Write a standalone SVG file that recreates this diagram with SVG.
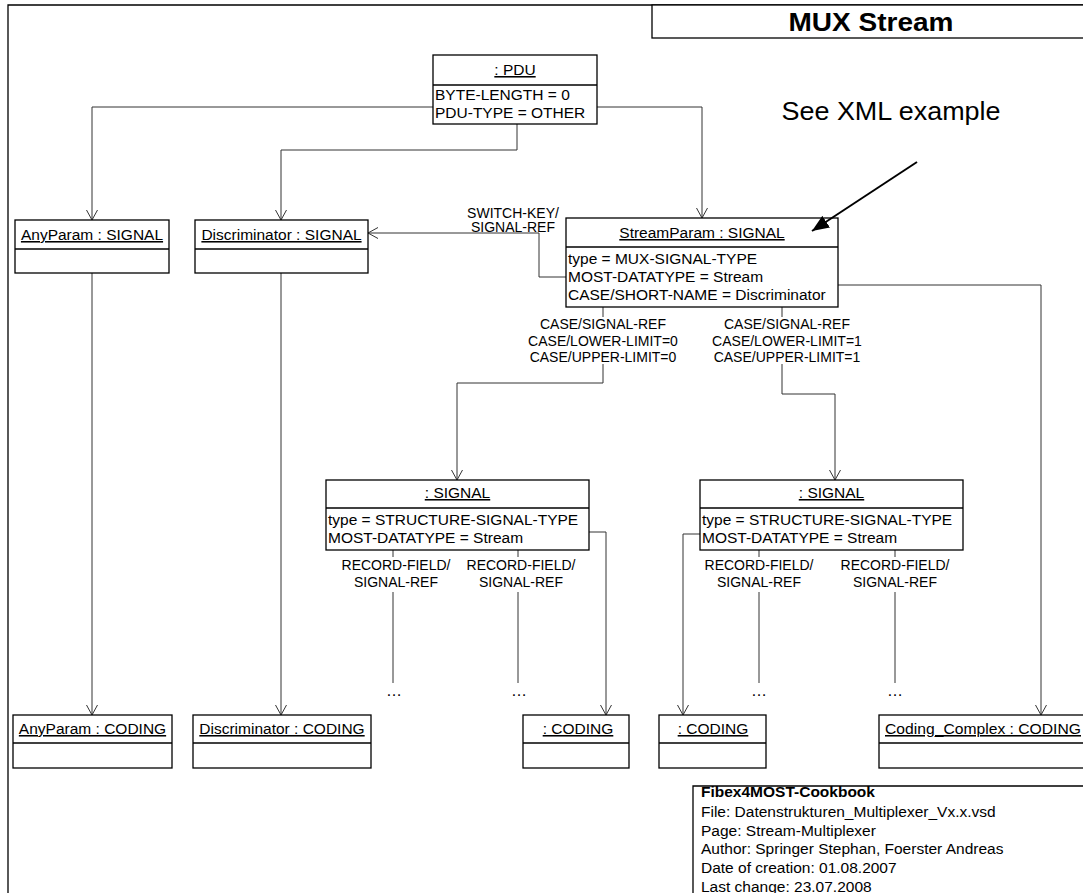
<svg xmlns="http://www.w3.org/2000/svg" width="1083" height="893" viewBox="0 0 1083 893">
  <style>
    .frame{fill:none;stroke:#000;stroke-width:1.3}
    .box{fill:#fff;stroke:#000;stroke-width:1.3}
    .div{stroke:#000;stroke-width:1.3}
    .conn{fill:none;stroke:#333;stroke-width:1}
    .t{font-family:"Liberation Sans",Arial,sans-serif;font-size:15.5px;fill:#000}
    .hdr{text-anchor:middle;text-decoration:underline}
    .lbl{font-family:"Liberation Sans",Arial,sans-serif;font-size:14px;fill:#000;text-anchor:middle}
    .dots{font-family:"Liberation Sans",Arial,sans-serif;font-size:16px;fill:#000;text-anchor:middle}
  </style>
  <defs>
    <marker id="open" markerUnits="userSpaceOnUse" markerWidth="12" markerHeight="13" refX="11" refY="6" orient="auto">
      <path d="M1,0.5 L11,6 L1,11.5" fill="none" stroke="#333" stroke-width="1"/>
    </marker>
    <marker id="solid" markerUnits="userSpaceOnUse" markerWidth="18" markerHeight="14" refX="17" refY="7" orient="auto">
      <path d="M0,0 L17,7 L0,14 Z" fill="#000"/>
    </marker>
  </defs>

  <!-- page frame and title -->
  <path class="frame" d="M8,893 V5 H1083"/>
  <g id="title">
    <rect class="box" x="652" y="5" width="440" height="33"/>
    <text class="t" x="871" y="31" text-anchor="middle" style="font-size:25px;font-weight:bold" textLength="165" lengthAdjust="spacingAndGlyphs">MUX Stream</text>
  </g>

  <!-- connectors -->
  <g id="connectors">
    <path class="conn" d="M433,107 H92 V220" marker-end="url(#open)"/>
    <path class="conn" d="M597,107 H702 V218" marker-end="url(#open)"/>
    <path class="conn" d="M517,124 V150 H281 V220" marker-end="url(#open)"/>
    <path class="conn" d="M566,277 H539 V233 H368" marker-end="url(#open)"/>
    <path class="conn" d="M838,285 H1041 V715" marker-end="url(#open)"/>
    <path class="conn" d="M603,307 V317"/>
    <path class="conn" d="M603,364 V383 H457 V480" marker-end="url(#open)"/>
    <path class="conn" d="M782,307 V317"/>
    <path class="conn" d="M782,364 V394 H835 V480" marker-end="url(#open)"/>
    <path class="conn" d="M92,273 V715" marker-end="url(#open)"/>
    <path class="conn" d="M281,273 V715" marker-end="url(#open)"/>
    <path class="conn" d="M589,532 H606 V715" marker-end="url(#open)"/>
    <path class="conn" d="M700,534 H683 V715" marker-end="url(#open)"/>
    <path class="conn" d="M393,550 V557 M393,592 V683"/>
    <path class="conn" d="M518,550 V557 M518,592 V683"/>
    <path class="conn" d="M759,550 V557 M759,592 V683"/>
    <path class="conn" d="M895,550 V557 M895,592 V683"/>
  </g>

  <!-- connector labels -->
  <g id="labels">
    <text class="lbl" x="513" y="218">SWITCH-KEY/</text>
    <text class="lbl" x="513" y="232">SIGNAL-REF</text>
    <text class="lbl" x="603" y="329">CASE/SIGNAL-REF</text>
    <text class="lbl" x="603" y="346">CASE/LOWER-LIMIT=0</text>
    <text class="lbl" x="603" y="362">CASE/UPPER-LIMIT=0</text>
    <text class="lbl" x="787" y="329">CASE/SIGNAL-REF</text>
    <text class="lbl" x="787" y="346">CASE/LOWER-LIMIT=1</text>
    <text class="lbl" x="787" y="362">CASE/UPPER-LIMIT=1</text>
    <text class="lbl" x="396" y="570">RECORD-FIELD/</text>
    <text class="lbl" x="396" y="587">SIGNAL-REF</text>
    <text class="lbl" x="521" y="570">RECORD-FIELD/</text>
    <text class="lbl" x="521" y="587">SIGNAL-REF</text>
    <text class="lbl" x="759" y="570">RECORD-FIELD/</text>
    <text class="lbl" x="759" y="587">SIGNAL-REF</text>
    <text class="lbl" x="895" y="570">RECORD-FIELD/</text>
    <text class="lbl" x="895" y="587">SIGNAL-REF</text>
    <text class="dots" x="394" y="696">…</text>
    <text class="dots" x="519" y="696">…</text>
    <text class="dots" x="759" y="696">…</text>
    <text class="dots" x="895" y="696">…</text>
  </g>

  <!-- object nodes -->
  <g id="pdu">
    <rect class="box" x="433" y="55" width="164" height="69"/>
    <line class="div" x1="433" y1="85" x2="597" y2="85"/>
    <text class="t hdr" x="515" y="75">: PDU</text>
    <text class="t" x="435" y="100">BYTE-LENGTH = 0</text>
    <text class="t" x="435" y="118">PDU-TYPE = OTHER</text>
  </g>

  <g id="anyparam-signal">
    <rect class="box" x="15" y="220" width="154" height="53"/>
    <line class="div" x1="15" y1="249" x2="169" y2="249"/>
    <text class="t hdr" x="92" y="240">AnyParam : SIGNAL</text>
  </g>

  <g id="discriminator-signal">
    <rect class="box" x="195" y="220" width="173" height="53"/>
    <line class="div" x1="195" y1="249" x2="368" y2="249"/>
    <text class="t hdr" x="281.5" y="240">Discriminator : SIGNAL</text>
  </g>

  <g id="streamparam-signal">
    <rect class="box" x="566" y="218" width="272" height="89"/>
    <line class="div" x1="566" y1="247" x2="838" y2="247"/>
    <text class="t hdr" x="702" y="238">StreamParam : SIGNAL</text>
    <text class="t" x="568" y="264">type = MUX-SIGNAL-TYPE</text>
    <text class="t" x="568" y="282">MOST-DATATYPE = Stream</text>
    <text class="t" x="568" y="300">CASE/SHORT-NAME = Discriminator</text>
  </g>

  <g id="signal-case0">
    <rect class="box" x="326" y="480" width="263" height="70"/>
    <line class="div" x1="326" y1="508" x2="589" y2="508"/>
    <text class="t hdr" x="457.5" y="498">: SIGNAL</text>
    <text class="t" x="328" y="525">type = STRUCTURE-SIGNAL-TYPE</text>
    <text class="t" x="328" y="543">MOST-DATATYPE = Stream</text>
  </g>

  <g id="signal-case1">
    <rect class="box" x="700" y="480" width="263" height="70"/>
    <line class="div" x1="700" y1="508" x2="963" y2="508"/>
    <text class="t hdr" x="831.5" y="498">: SIGNAL</text>
    <text class="t" x="702" y="525">type = STRUCTURE-SIGNAL-TYPE</text>
    <text class="t" x="702" y="543">MOST-DATATYPE = Stream</text>
  </g>

  <g id="anyparam-coding">
    <rect class="box" x="13" y="715" width="159" height="53"/>
    <line class="div" x1="13" y1="743" x2="172" y2="743"/>
    <text class="t hdr" x="92.5" y="734">AnyParam : CODING</text>
  </g>

  <g id="discriminator-coding">
    <rect class="box" x="193" y="715" width="178" height="53"/>
    <line class="div" x1="193" y1="743" x2="371" y2="743"/>
    <text class="t hdr" x="282" y="734">Discriminator : CODING</text>
  </g>

  <g id="coding-case0">
    <rect class="box" x="523" y="715" width="106" height="53"/>
    <line class="div" x1="523" y1="743" x2="629" y2="743"/>
    <text class="t hdr" x="578" y="734">: CODING</text>
  </g>

  <g id="coding-case1">
    <rect class="box" x="659" y="715" width="107" height="53"/>
    <line class="div" x1="659" y1="743" x2="766" y2="743"/>
    <text class="t hdr" x="713" y="734">: CODING</text>
  </g>

  <g id="coding-complex">
    <rect class="box" x="879" y="715" width="215" height="53"/>
    <line class="div" x1="879" y1="743" x2="1094" y2="743"/>
    <text class="t" x="885" y="734" style="text-decoration:underline" textLength="196" lengthAdjust="spacingAndGlyphs">Coding_Complex : CODING</text>
  </g>

  <!-- annotation pointing at the stream parameter (drawn above the boxes) -->
  <g id="note">
    <text class="t" x="891" y="120" text-anchor="middle" style="font-size:25px" textLength="219" lengthAdjust="spacingAndGlyphs">See XML example</text>
    <line x1="917" y1="162" x2="812" y2="231" stroke="#000" stroke-width="2" marker-end="url(#solid)"/>
  </g>

  <!-- document info block -->
  <g id="info">
    <path class="frame" d="M693,893 V786 H1083"/>
    <text class="t" x="701" y="797" style="font-weight:bold">Fibex4MOST-Cookbook</text>
    <text class="t" x="701" y="817">File: Datenstrukturen_Multiplexer_Vx.x.vsd</text>
    <text class="t" x="701" y="836">Page: Stream-Multiplexer</text>
    <text class="t" x="701" y="854">Author: Springer Stephan, Foerster Andreas</text>
    <text class="t" x="701" y="873">Date of creation: 01.08.2007</text>
    <text class="t" x="701" y="892">Last change: 23.07.2008</text>
  </g>
</svg>
